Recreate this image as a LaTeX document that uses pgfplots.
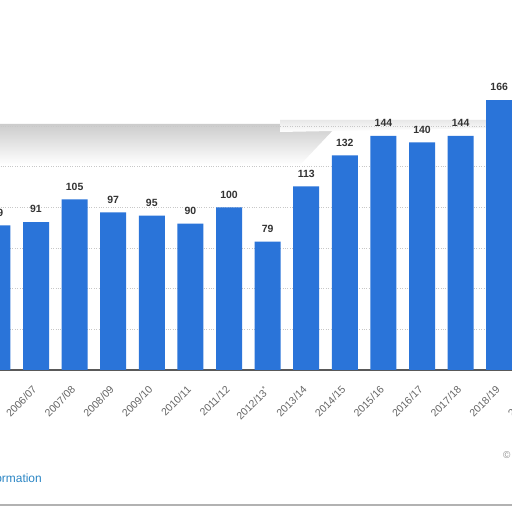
\documentclass[border=0pt]{standalone}
\usepackage{pgfplots}
\pgfplotsset{compat=1.18}
\usepackage{fontspec}
\setmainfont{Liberation Sans}
\definecolor{barblue}{HTML}{2A74D9}
\definecolor{valtext}{HTML}{333333}
\definecolor{ticktext}{HTML}{666666}
\definecolor{gridgray}{HTML}{C8C8C8}
\definecolor{linkblue}{HTML}{2B86C5}
\begin{document}
\begin{tikzpicture}[x=1bp,y=1bp]
\useasboundingbox (0,0) rectangle (512,512);
\clip (0,0) rectangle (512,512);
\fill[white] (0,0) rectangle (512,512);
% grey smear across the top of the screenshot
\shade[top color=black!20, bottom color=white] (0,388) -- (280,388) -- (335,384) -- (300,347) -- (0,347) -- cycle;
\shade[top color=black!9, bottom color=white] (280,392) -- (490,392) -- (490,384) -- (280,380) -- cycle;
\begin{axis}[
  anchor=south west, at={(-25.76bp,142bp)},
  x=38.6bp, y=1.625bp,
  xmin=-0.6, xmax=14.6,
  ymin=0, ymax=200,
  ybar, bar width=26bp,
  axis x line*=bottom,
  axis y line*=left,
  y axis line style={draw=none},
  x axis line style={draw=black!65, line width=1.1bp},
  xtick={0,...,14},
  xticklabels={2005/06,2006/07,2007/08,2008/09,2009/10,2010/11,2011/12,{2012/13\textsuperscript{*}},2013/14,2014/15,2015/16,2016/17,2017/18,2018/19,2019/20},
  xticklabel style={yshift=-15bp, xshift=-4bp, rotate=45, anchor=north east, inner sep=0pt,
    font=\fontsize{10.5}{12}\selectfont, text=ticktext},
  ytick={25,50,...,150},
  yticklabels={},
  major tick length=0pt,
  ymajorgrids,
  grid style={dotted, gridgray, line width=0.8bp},
  /pgf/number format/assume math mode=true,
  nodes near coords,
  every node near coord/.append style={anchor=south, inner sep=0pt, yshift=9bp,
    font=\fontsize{10.5}{12}\selectfont\bfseries, text=valtext},
]
\addplot[fill=barblue, draw=none] coordinates {
  (0,89) (1,91) (2,105) (3,97) (4,95) (5,90) (6,100) (7,79)
  (8,113) (9,132) (10,144) (11,140) (12,144) (13,166)
};
\end{axis}
\node[anchor=base east, inner sep=0pt, text=linkblue, font=\fontsize{12}{14}\selectfont] at (42,29) {Additional Information};
\node[anchor=base west, inner sep=0pt, text=black!45, font=\fontsize{10}{12}\selectfont] at (503,53) {© Statista 2020};
\draw[black!30, line width=1.5bp] (0,7) -- (512,7);
\end{tikzpicture}
\end{document}
